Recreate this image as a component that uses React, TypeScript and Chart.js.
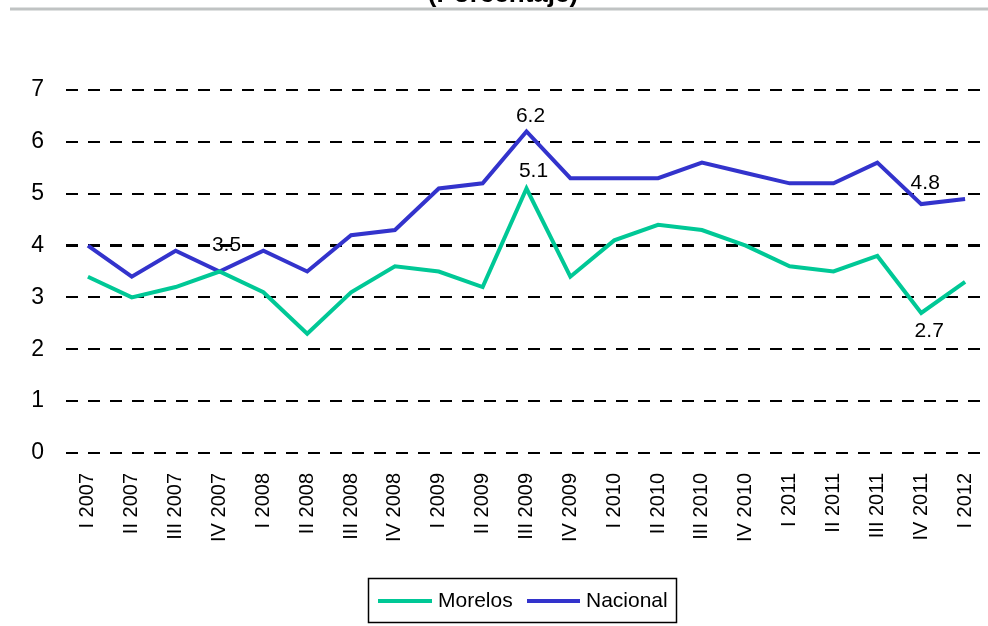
import React, { useEffect, useRef } from "react";
import { Chart, registerables } from "chart.js";

Chart.register(...registerables);

const categories = [
  "I 2007", "II 2007", "III 2007", "IV 2007",
  "I 2008", "II 2008", "III 2008", "IV 2008",
  "I 2009", "II 2009", "III 2009", "IV 2009",
  "I 2010", "II 2010", "III 2010", "IV 2010",
  "I 2011", "II 2011", "III 2011", "IV 2011",
  "I 2012",
];
const morelos = [3.4, 3.0, 3.2, 3.5, 3.1, 2.3, 3.1, 3.6, 3.5, 3.2, 5.1, 3.4, 4.1, 4.4, 4.3, 4.0, 3.6, 3.5, 3.8, 2.7, 3.3];
const nacional = [4.0, 3.4, 3.9, 3.5, 3.9, 3.5, 4.2, 4.3, 5.1, 5.2, 6.2, 5.3, 5.3, 5.3, 5.6, 5.4, 5.2, 5.2, 5.6, 4.8, 4.9];
const seriesNames = ["Morelos", "Nacional"];
const yMin = 0;
const yMax = 7;
const yStep = 1;
const titleText = "(Porcentaje)";
// indices of points that carry a value label, per series
const morelosLabelIdx = [3, 10, 19];
const nacionalLabelIdx = [10, 19];

// label offsets (style, not data)
const labelOffsets: Record<string, [number, number]> = {
  "0-3": [7, -26],
  "0-10": [7, -17],
  "0-19": [8, 18],
  "1-10": [4, -15],
  "1-19": [4, -21],
};

const FONT = "'Liberation Sans', Arial, sans-serif";
const COLORS = ["#00C896", "#3333CC"];

const decorPlugin = {
  id: "decor",
  afterDraw(chart: any) {
    const ctx = chart.ctx;
    ctx.save();
    // title remnant + rule
    ctx.fillStyle = "#000";
    ctx.font = `bold 26px ${FONT}`;
    ctx.textAlign = "center";
    ctx.textBaseline = "alphabetic";
    ctx.fillText(titleText, 503, 2);
    ctx.fillStyle = "#c0c3c3";
    ctx.fillRect(10, 7.5, 978, 3);

    // value labels
    ctx.font = `21px ${FONT}`;
    ctx.fillStyle = "#000";
    ctx.textAlign = "center";
    ctx.textBaseline = "middle";
    const idxLists = [morelosLabelIdx, nacionalLabelIdx];
    chart.data.datasets.forEach((ds: any, di: number) => {
      const meta = chart.getDatasetMeta(di);
      idxLists[di].forEach((i) => {
        const pt = meta.data[i];
        const off = labelOffsets[`${di}-${i}`] || [0, -16];
        ctx.fillText(ds.data[i].toFixed(1), pt.x + off[0], pt.y + off[1]);
      });
    });

    // legend
    const bx = 368.5, by = 578.5, bw = 308, bh = 44;
    ctx.strokeStyle = "#000";
    ctx.lineWidth = 1.5;
    ctx.strokeRect(bx, by, bw, bh);
    const items = [
      { x1: 378, x2: 432, tx: 438 },
      { x1: 527, x2: 580, tx: 586 },
    ];
    const cy = 601;
    ctx.textAlign = "left";
    ctx.font = `21px ${FONT}`;
    chart.data.datasets.forEach((ds: any, di: number) => {
      const it = items[di];
      ctx.strokeStyle = ds.borderColor;
      ctx.lineWidth = 4;
      ctx.beginPath();
      ctx.moveTo(it.x1, cy);
      ctx.lineTo(it.x2, cy);
      ctx.stroke();
      ctx.fillStyle = "#000";
      ctx.fillText(ds.label, it.tx, cy);
    });
    ctx.restore();
  },
};

export default function App() {
  const canvasRef = useRef<HTMLCanvasElement | null>(null);

  useEffect(() => {
    const canvas = canvasRef.current;
    if (!canvas) return;
    const chart = new Chart(canvas, {
      type: "line",
      data: {
        labels: categories,
        datasets: [
          {
            label: seriesNames[0],
            data: morelos,
            borderColor: COLORS[0],
            backgroundColor: COLORS[0],
            borderWidth: 4,
            pointRadius: 0,
            tension: 0,
          },
          {
            label: seriesNames[1],
            data: nacional,
            borderColor: COLORS[1],
            backgroundColor: COLORS[1],
            borderWidth: 4,
            pointRadius: 0,
            tension: 0,
          },
        ],
      },
      options: {
        responsive: false,
        animation: false,
        devicePixelRatio: 1,
        layout: { padding: { top: 90, right: 1, bottom: 0, left: 0 } },
        plugins: {
          legend: { display: false },
          tooltip: { enabled: false },
          title: { display: false },
        },
        scales: {
          x: {
            type: "category",
            offset: true,
            grid: { display: false, drawTicks: false },
            border: { display: false },
            ticks: {
              autoSkip: false,
              maxRotation: 90,
              minRotation: 90,
              padding: 20,
              color: "#000",
              font: { family: FONT, size: 20 },
            },
            afterFit: (scale: any) => {
              scale.height = 173;
              scale.paddingLeft = 0;
              scale.paddingRight = 0;
            },
          },
          y: {
            min: yMin,
            max: yMax,
            grid: {
              drawTicks: false,
              color: "#000",
              lineWidth: (c: any) => (c.tick && c.tick.value === 4 ? 3 : 2),
            },
            border: { display: false, dash: [12, 10] },
            ticks: {
              stepSize: yStep,
              padding: 22,
              color: "#000",
              font: { family: FONT, size: 23 },
            },
            afterFit: (scale: any) => {
              scale.width = 66;
            },
          },
        },
      },
      plugins: [decorPlugin],
    });
    return () => chart.destroy();
  }, []);

  return (
    <div style={{ position: "absolute", left: 0, top: 0, width: 988, height: 626, background: "#fff" }}>
      <canvas ref={canvasRef} width={988} height={626} style={{ display: "block" }} />
    </div>
  );
}
